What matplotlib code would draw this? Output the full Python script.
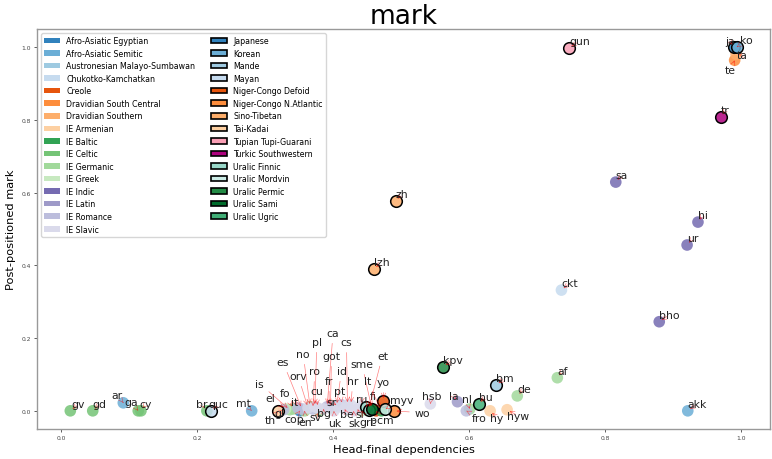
import matplotlib
matplotlib.use("Agg")
import matplotlib.pyplot as plt
from matplotlib.patches import Patch
from matplotlib.colors import to_rgba

# language families (legend order) and their colours
group_names = [
    "Afro-Asiatic Egyptian", "Afro-Asiatic Semitic", "Austronesian Malayo-Sumbawan",
    "Chukotko-Kamchatkan", "Creole", "Dravidian South Central", "Dravidian Southern",
    "IE Armenian", "IE Baltic", "IE Celtic", "IE Germanic", "IE Greek", "IE Indic",
    "IE Latin", "IE Romance", "IE Slavic",
    "Japanese", "Korean", "Mande", "Mayan", "Niger-Congo Defoid",
    "Niger-Congo N.Atlantic", "Sino-Tibetan", "Tai-Kadai", "Tupian Tupi-Guarani",
    "Turkic Southwestern", "Uralic Finnic", "Uralic Mordvin", "Uralic Permic",
    "Uralic Sami", "Uralic Ugric",
]
group_colors = [
    "#3182bd", "#6baed6", "#9ecae1", "#c6dbef", "#e6550d", "#fd8d3c", "#fdae6b",
    "#fdd0a2", "#31a354", "#74c476", "#a1d99b", "#c7e9c0", "#756bb1", "#9e9ac8",
    "#bcbddc", "#dadaeb",
    "#3182bd", "#6baed6", "#9ecae1", "#c6dbef", "#e6550d", "#fd8d3c", "#fdae6b",
    "#fdd0a2", "#fa9fb5", "#ae017e", "#99d8c9", "#ccece6", "#238b45", "#006d2c",
    "#41ae76",
]
edged_groups = group_names[16:]

langs = ["gv", "gd", "ar", "ga", "cy", "br", "quc", "mt", "th", "gl", "el", "is", "fo",
         "it", "cop", "es", "en", "orv", "no", "ro", "pl", "cu", "sv", "bg", "ca", "fr",
         "got", "uk", "id", "sr", "pt", "be", "cs", "hr", "sk", "sl", "ru", "grc", "fi",
         "et", "sme", "pcm", "lt", "myv", "yo", "wo", "lzh", "zh", "hsb", "kpv", "la",
         "fro", "nl", "hu", "hy", "bm", "hyw", "de", "af", "ckt", "gun", "sa", "bho",
         "ur", "akk", "hi", "tr", "ja", "te", "ta", "ko"]
lang_group = [
    "IE Celtic", "IE Celtic", "Afro-Asiatic Semitic", "IE Celtic", "IE Celtic",
    "IE Celtic", "Mayan", "Afro-Asiatic Semitic", "Tai-Kadai", "IE Romance", "IE Greek",
    "IE Germanic", "IE Germanic", "IE Romance", "Afro-Asiatic Egyptian", "IE Romance",
    "IE Germanic", "IE Slavic", "IE Germanic", "IE Romance", "IE Slavic", "IE Slavic",
    "IE Germanic", "IE Slavic", "IE Romance", "IE Romance", "IE Germanic", "IE Slavic",
    "Austronesian Malayo-Sumbawan", "IE Slavic", "IE Romance", "IE Slavic", "IE Slavic",
    "IE Slavic", "IE Slavic", "IE Slavic", "IE Slavic", "IE Greek", "Uralic Finnic",
    "Uralic Finnic", "Uralic Sami", "Creole", "IE Baltic", "Uralic Mordvin",
    "Niger-Congo Defoid", "Niger-Congo N.Atlantic", "Sino-Tibetan", "Sino-Tibetan",
    "IE Slavic", "Uralic Permic", "IE Latin", "IE Romance", "IE Germanic",
    "Uralic Ugric", "IE Armenian", "Mande", "IE Armenian", "IE Germanic", "IE Germanic",
    "Chukotko-Kamchatkan", "Tupian Tupi-Guarani", "IE Indic", "IE Indic", "IE Indic",
    "Afro-Asiatic Semitic", "IE Indic", "Turkic Southwestern", "Japanese",
    "Dravidian South Central", "Dravidian Southern", "Korean",
]
head_final = [0.013, 0.046, 0.091, 0.113, 0.117, 0.214, 0.220, 0.280, 0.319, 0.327,
              0.330, 0.336, 0.341, 0.348, 0.351, 0.354, 0.358, 0.363, 0.366, 0.370,
              0.373, 0.377, 0.380, 0.386, 0.391, 0.394, 0.396, 0.401, 0.405, 0.408,
              0.413, 0.417, 0.421, 0.426, 0.430, 0.436, 0.441, 0.442, 0.448, 0.452,
              0.457, 0.463, 0.471, 0.477, 0.474, 0.489, 0.460, 0.492, 0.543, 0.562,
              0.583, 0.596, 0.601, 0.614, 0.631, 0.640, 0.656, 0.671, 0.730, 0.736,
              0.747, 0.816, 0.880, 0.921, 0.922, 0.937, 0.971, 0.990, 0.991, 0.993,
              0.994]
post_mark = [0.0, 0.0, 0.022, 0.0, 0.0, 0.0, 0.0, 0.0, 0.0, 0.003,
             0.005, 0.003, 0.005, 0.008, 0.0, 0.005, 0.0, 0.008, 0.011, 0.005,
             0.011, 0.008, 0.0, 0.005, 0.011, 0.011, 0.008, 0.0, 0.014, 0.011,
             0.016, 0.005, 0.016, 0.016, 0.0, 0.005, 0.014, 0.0, 0.011, 0.003,
             0.005, 0.0, 0.0, 0.005, 0.027, 0.0, 0.390, 0.577, 0.019, 0.121,
             0.025, 0.0, 0.005, 0.019, 0.0, 0.071, 0.003, 0.041, 0.091, 0.332,
             0.997, 0.629, 0.245, 0.456, 0.0, 0.519, 0.808, 1.0, 0.964, 0.981,
             1.0]

# label placement (pixel offsets of the label centre from its point)
label_offsets = {
    "th": (-8, -9), "gl": (-4, -3), "el": (-15, 11), "is": (-30, 26), "fo": (-8, 16),
    "it": (-3, 6), "cop": (-6, -8), "es": (-19, 47), "en": (1, -11), "orv": (-10, 32),
    "no": (-7, 53), "ro": (2, 38), "pl": (2, 65), "cu": (-1, 17), "sv": (-4, -6),
    "bg": (0, -4), "ca": (6, 74), "fr": (0, 26), "got": (1, 52), "uk": (1, -12),
    "id": (5, 35), "sr": (-7, 5), "pt": (-2, 14), "be": (2, -5), "cs": (-1, 63),
    "hr": (2, 24), "sk": (1, -12), "sl": (2, -5), "ru": (1, 7), "grc": (6, -11),
    "fi": (7, 11), "et": (14, 54), "sme": (-10, 45), "pcm": (6, -9), "lt": (-14, 30),
    "myv": (16, 9), "yo": (0, 19), "wo": (29, -2),
    "ja": (-4, 6), "ko": (10, 7), "ta": (6, -1), "te": (-4, -10), "fro": (13, -7),
    "nl": (-3, 10), "la": (-4, 6), "hsb": (1, 8), "hy": (7, -7), "hyw": (11, -6),
    "ar": (-6, 8), "ga": (-7, 9), "cy": (5, 7), "br": (-5, 7), "quc": (7, 7),
    "mt": (-8, 8), "gv": (8, 7), "gd": (7, 7),
}

fig = plt.figure(figsize=(7.72, 4.6), dpi=100)
ax = fig.add_axes([37 / 772, 1 - 430 / 460, 733 / 772, 400 / 460])

color_of = dict(zip(group_names, group_colors))

for g in group_names:
    xs = [x for x, gg in zip(head_final, lang_group) if gg == g]
    ys = [y for y, gg in zip(post_mark, lang_group) if gg == g]
    if not xs:
        continue
    face = to_rgba(color_of[g], 0.85)
    if g in edged_groups:
        ax.scatter(xs, ys, s=70, facecolor=face, edgecolor="black", linewidth=1.1)
    else:
        ax.scatter(xs, ys, s=70, facecolor=face, edgecolor="none")

arrow = dict(arrowstyle="->", color="red", lw=0.5, alpha=0.5)
for name, x, y in zip(langs, head_final, post_mark):
    if name in label_offsets:
        ax.annotate(name, xy=(x, y), xytext=label_offsets[name], textcoords="offset pixels",
                    ha="center", va="center", fontsize=7.8, color="#222222",
                    arrowprops=arrow)
    else:
        ax.annotate(name, xy=(x, y), xytext=(0, 4), textcoords="offset pixels",
                    ha="left", va="baseline", fontsize=7.8, color="#222222",
                    arrowprops=arrow)

handles = []
for g, c in zip(group_names, group_colors):
    if g in edged_groups:
        handles.append(Patch(facecolor=c, edgecolor="black", linewidth=1.2, label=g))
    else:
        handles.append(Patch(facecolor=c, edgecolor="none", label=g))
ax.legend(handles=handles, loc="upper left", ncol=2, fontsize=5.7, labelspacing=0.45,
          frameon=True, edgecolor="#cccccc")

ax.set_title("mark", fontsize=19, pad=3)
ax.set_xlabel("Head-final dependencies", fontsize=8.2, labelpad=3)
ax.set_ylabel("Post-positioned mark", fontsize=8.2, labelpad=4)
ax.set_xticks([0.0, 0.2, 0.4, 0.6, 0.8, 1.0])
ax.set_yticks([0.0, 0.2, 0.4, 0.6, 0.8, 1.0])
ax.tick_params(labelsize=4.3, length=2.5, width=0.6, colors="#444444", pad=2)
for sp in ax.spines.values():
    sp.set_color("#999999")
    sp.set_linewidth(1.0)

fig.savefig("out.png", dpi=100)
